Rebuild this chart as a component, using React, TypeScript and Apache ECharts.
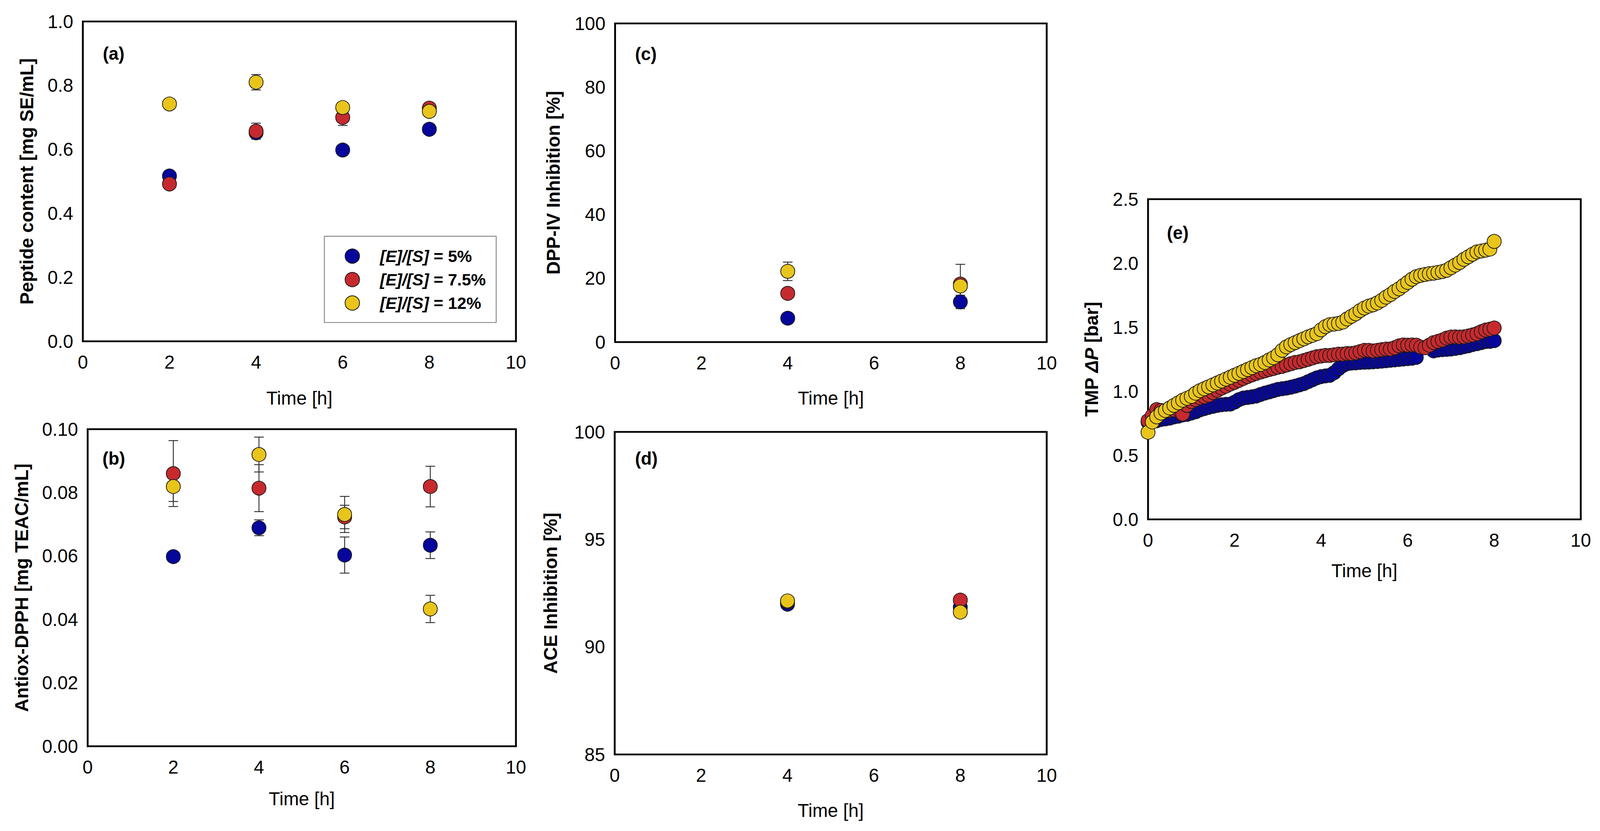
import React, { useEffect, useRef } from "react";
import * as echarts from "echarts";

// ---------- DATA ----------
const SERIES_NAMES = ["[E]/[S] = 5%", "[E]/[S] = 7.5%", "[E]/[S] = 12%"];

// (a) Peptide content [mg SE/mL]
const A_TIME = [2, 4, 6, 8];
const A_BLUE = [0.517, 0.652, 0.598, 0.663];
const A_BLUE_ERR = [0.01, 0.012, 0.008, 0.01];
const A_RED = [0.492, 0.657, 0.7, 0.729];
const A_RED_ERR = [0.012, 0.025, 0.025, 0.012];
const A_YELLOW = [0.742, 0.81, 0.731, 0.719];
const A_YELLOW_ERR = [0.01, 0.024, 0.015, 0.015];

// (b) Antiox-DPPH [mg TEAC/mL]
const B_TIME = [2, 4, 6, 8];
const B_BLUE = [0.0598, 0.0689, 0.0603, 0.0634];
const B_BLUE_ERR = [0.001, 0.0025, 0.0057, 0.0042];
const B_RED = [0.086, 0.0814, 0.0723, 0.0819];
const B_RED_ERR = [0.0104, 0.0074, 0.0037, 0.0064];
const B_YELLOW = [0.0819, 0.092, 0.0731, 0.0433];
const B_YELLOW_ERR = [0.0047, 0.0055, 0.0057, 0.0043];

// (c) DPP-IV Inhibition [%]
const C_TIME = [4, 8];
const C_BLUE = [7.5, 12.6];
const C_BLUE_ERR = [1.0, 2.1];
const C_RED = [15.3, 18.2];
const C_RED_ERR = [1.0, 6.2];
const C_YELLOW = [22.2, 17.6];
const C_YELLOW_ERR = [2.9, 1.5];

// (d) ACE Inhibition [%]
const D_TIME = [4, 8];
const D_BLUE = [91.99, 91.85];
const D_BLUE_ERR = [0.1, 0.1];
const D_RED = [92.1, 92.18];
const D_RED_ERR = [0.1, 0.1];
const D_YELLOW = [92.14, 91.62];
const D_YELLOW_ERR = [0.1, 0.1];

// (e) TMP ΔP [bar]
const E_TIME = [
  0.0, 0.1, 0.2, 0.3, 0.4, 0.5, 0.6, 0.7, 0.8, 0.9,
  1.0, 1.1, 1.2, 1.3, 1.4, 1.5, 1.6, 1.7, 1.8, 1.9,
  2.0, 2.1, 2.2, 2.3, 2.4, 2.5, 2.6, 2.7, 2.8, 2.9,
  3.0, 3.1, 3.2, 3.3, 3.4, 3.5, 3.6, 3.7, 3.8, 3.9,
  4.0, 4.1, 4.2, 4.3, 4.4, 4.5, 4.6, 4.7, 4.8, 4.9,
  5.0, 5.1, 5.2, 5.3, 5.4, 5.5, 5.6, 5.7, 5.8, 5.9,
  6.0, 6.1, 6.2, 6.3, 6.4, 6.5, 6.6, 6.7, 6.8, 6.9,
  7.0, 7.1, 7.2, 7.3, 7.4, 7.5, 7.6, 7.7, 7.8, 7.9,
  8.0,
];
const E_BLUE: (number | null)[] = [
  0.76, 0.765, 0.77, 0.78, 0.785, 0.79, 0.8, 0.805, 0.815, 0.82,
  0.83, 0.84, 0.855, 0.865, 0.875, 0.882, 0.89, 0.895, 0.898, 0.9,
  0.915, 0.935, 0.947, 0.952, 0.957, 0.963, 0.975, 0.986, 0.995, 1.005,
  1.015, 1.02, 1.025, 1.032, 1.04, 1.05, 1.06, 1.075, 1.09, 1.105,
  1.115, 1.12, 1.125, 1.145, 1.175, 1.2, 1.215, 1.22, 1.222, 1.225,
  1.227, 1.228, 1.23, 1.232, 1.235, 1.238, 1.242, 1.245, 1.248, 1.252,
  1.255, 1.258, 1.265, null, null, null, 1.315, 1.322, 1.325, 1.327,
  1.33, 1.335, 1.34, 1.348, 1.355, 1.365, 1.372, 1.38, 1.388, 1.39,
  1.395,
];
const E_RED: (number | null)[] = [
  0.77, 0.81, 0.857, 0.85, 0.845, 0.85, 0.855, 0.86, 0.823, 0.89,
  0.92, 0.935, 0.95, 0.958, 0.97, 0.99, 1.008, 1.025, 1.04, 1.056,
  1.07, 1.085, 1.1, 1.115, 1.128, 1.14, 1.15, 1.16, 1.17, 1.178,
  1.188, 1.195, 1.205, 1.215, 1.225, 1.23, 1.24, 1.25, 1.26, 1.27,
  1.275, 1.28, 1.28, 1.285, 1.29, 1.29, 1.295, 1.295, 1.3, 1.31,
  1.32, 1.32, 1.315, 1.32, 1.325, 1.33, 1.33, 1.34, 1.355, 1.362,
  1.36, 1.362, 1.36, 1.345, 1.34, 1.36, 1.38, 1.39, 1.4, 1.415,
  1.423, 1.425, 1.423, 1.425, 1.432, 1.44, 1.45, 1.465, 1.478, 1.485,
  1.494,
];
const E_YELLOW: (number | null)[] = [
  0.68, 0.76, 0.8, 0.83, 0.85, 0.87, 0.89, 0.91, 0.93, 0.945,
  0.96, 0.985, 1.005, 1.02, 1.035, 1.05, 1.065, 1.08, 1.095, 1.11,
  1.125, 1.14, 1.155, 1.17, 1.185, 1.2, 1.21, 1.225, 1.245, 1.262,
  1.285, 1.32, 1.347, 1.365, 1.38, 1.395, 1.41, 1.425, 1.437, 1.45,
  1.48, 1.505, 1.52, 1.525, 1.53, 1.54, 1.565, 1.585, 1.605, 1.63,
  1.65, 1.665, 1.675, 1.69, 1.71, 1.735, 1.755, 1.78, 1.8, 1.825,
  1.85, 1.875, 1.895, 1.905, 1.912, 1.918, 1.922, 1.928, 1.935, 1.945,
  1.965, 1.985, 2.005, 2.03, 2.05, 2.07, 2.088, 2.095, 2.102, 2.11,
  2.17,
];

// axis ticks
const X_TICKS = { min: 0, max: 10, interval: 2 };
const Y_TICKS = [
  { min: 0, max: 1, interval: 0.2, dec: 1 },
  { min: 0, max: 0.1, interval: 0.02, dec: 2 },
  { min: 0, max: 100, interval: 20, dec: 0 },
  { min: 85, max: 100, interval: 5, dec: 0 },
  { min: 0, max: 2.5, interval: 0.5, dec: 1 },
];
const Y_TITLES = [
  "Peptide content [mg SE/mL]",
  "Antiox-DPPH [mg TEAC/mL]",
  "DPP-IV Inhibition [%]",
  "ACE Inhibition [%]",
  null, // rich title for (e): TMP ΔP [bar]
];
const PANEL_LABELS = ["(a)", "(b)", "(c)", "(d)", "(e)"];
const X_TITLE = "Time [h]";

// ---------- STYLE / LAYOUT (reference pixel frame 4326 x 2128) ----------
const REF_W = 4326;
const REF_H = 2128;
const FONT = '"Liberation Sans", Arial, Helvetica, sans-serif';
const COLORS = ["#06069c", "#c62a2e", "#e9c51b"];
const EDGE = "#1a1a1a";
const ERR_COLOR = "#333333";

const BOXES = [
  { l: 224, t: 55, r: 1395, b: 874, yOff: 152, xOff: 145, lx: 278, ly: 137 },
  { l: 237, t: 1099, r: 1395, b: 1911, yOff: 178, xOff: 134, lx: 277, ly: 1174 },
  { l: 1663, t: 60, r: 2830, b: 876, yOff: 167, xOff: 143, lx: 1717, ly: 138 },
  { l: 1662, t: 1106, r: 2830, b: 1932, yOff: 173, xOff: 143, lx: 1717, ly: 1174 },
  { l: 3104, t: 510, r: 4274, b: 1330, yOff: 153, xOff: 131, lx: 3155, ly: 596 },
];

const PANEL_DATA = [
  { t: A_TIME, v: [A_BLUE, A_RED, A_YELLOW], e: [A_BLUE_ERR, A_RED_ERR, A_YELLOW_ERR] },
  { t: B_TIME, v: [B_BLUE, B_RED, B_YELLOW], e: [B_BLUE_ERR, B_RED_ERR, B_YELLOW_ERR] },
  { t: C_TIME, v: [C_BLUE, C_RED, C_YELLOW], e: [C_BLUE_ERR, C_RED_ERR, C_YELLOW_ERR] },
  { t: D_TIME, v: [D_BLUE, D_RED, D_YELLOW], e: [D_BLUE_ERR, D_RED_ERR, D_YELLOW_ERR] },
  { t: E_TIME, v: [E_BLUE, E_RED, E_YELLOW], e: null as null | number[][] },
];

function buildOption(sx: number, sy: number) {
  const f = Math.min(sx, sy);
  const X = (v: number) => v * sx;
  const Y = (v: number) => v * sy;
  const F = (v: number) => v * f;

  const errRender = (params: any, api: any) => {
    const x = api.value(0);
    const lo = api.value(1);
    const hi = api.value(2);
    const a = api.coord([x, hi]);
    const b = api.coord([x, lo]);
    const w = F(13);
    const style = { stroke: ERR_COLOR, lineWidth: F(2.5), fill: null };
    return {
      type: "group",
      children: [
        { type: "line", shape: { x1: a[0], y1: a[1], x2: b[0], y2: b[1] }, style },
        { type: "line", shape: { x1: a[0] - w, y1: a[1], x2: a[0] + w, y2: a[1] }, style },
        { type: "line", shape: { x1: b[0] - w, y1: b[1], x2: b[0] + w, y2: b[1] }, style },
      ],
    };
  };

  const grid = BOXES.map((bx) => ({
    left: X(bx.l),
    top: Y(bx.t),
    width: X(bx.r - bx.l),
    height: Y(bx.b - bx.t),
    show: true,
    borderColor: "#000",
    borderWidth: F(5),
    backgroundColor: "transparent",
    containLabel: false,
  }));

  const labelStyle = { fontSize: F(50), color: "#000", fontFamily: FONT };

  const xAxis = BOXES.map((_, i) => ({
    type: "value",
    gridIndex: i,
    min: X_TICKS.min,
    max: X_TICKS.max,
    interval: X_TICKS.interval,
    axisLine: { show: false },
    axisTick: { show: false },
    splitLine: { show: false },
    axisLabel: { ...labelStyle, margin: F(32) },
  }));

  const yAxis = Y_TICKS.map((tk, i) => ({
    type: "value",
    gridIndex: i,
    min: tk.min,
    max: tk.max,
    interval: tk.interval,
    axisLine: { show: false },
    axisTick: { show: false },
    splitLine: { show: false },
    axisLabel: {
      ...labelStyle,
      margin: F(26),
      formatter: (v: number) => v.toFixed(tk.dec),
    },
  }));

  const series: any[] = [];
  PANEL_DATA.forEach((pd, pi) => {
    pd.v.forEach((vals, si) => {
      if (pd.e) {
        const errs = pd.e[si];
        series.push({
          type: "custom",
          name: "err " + SERIES_NAMES[si],
          xAxisIndex: pi,
          yAxisIndex: pi,
          renderItem: errRender,
          encode: { x: 0, y: [1, 2] },
          data: pd.t.map((t, k) => [t, (vals[k] as number) - errs[k], (vals[k] as number) + errs[k]]),
          silent: true,
          z: 2,
        });
      }
      const pts: number[][] = [];
      pd.t.forEach((t, k) => {
        const v = vals[k];
        if (v !== null && v !== undefined) pts.push([t, v]);
      });
      series.push({
        type: "scatter",
        name: SERIES_NAMES[si],
        xAxisIndex: pi,
        yAxisIndex: pi,
        symbol: "circle",
        symbolSize: F(38),
        itemStyle: { color: COLORS[si], borderColor: EDGE, borderWidth: F(2), opacity: 1 },
        emphasis: { disabled: true },
        data: pts,
        z: 2,
      });
    });
  });

  const graphic: any[] = [];
  BOXES.forEach((bx, i) => {
    const cx = X((bx.l + bx.r) / 2);
    const cy = Y((bx.t + bx.b) / 2);
    graphic.push({
      type: "text",
      x: cx,
      y: Y(bx.b + bx.xOff),
      style: {
        text: X_TITLE,
        fontSize: F(50),
        fontFamily: FONT,
        fill: "#000",
        align: "center",
        verticalAlign: "middle",
        textAlign: "center",
        textVerticalAlign: "middle",
      },
    });
    const yt = Y_TITLES[i];
    graphic.push({
      type: "text",
      x: X(bx.l - bx.yOff),
      y: cy,
      rotation: Math.PI / 2,
      style: yt
        ? {
            text: yt,
            fontSize: F(50),
            fontWeight: "bold",
            fontFamily: FONT,
            fill: "#000",
            align: "center",
            verticalAlign: "middle",
            textAlign: "center",
            textVerticalAlign: "middle",
          }
        : {
            text: "{b|TMP }{bi|ΔP}{b| [bar]}",
            fontSize: F(50),
            fontWeight: "bold",
            fontFamily: FONT,
            fill: "#000",
            align: "center",
            verticalAlign: "middle",
            textAlign: "center",
            textVerticalAlign: "middle",
            rich: {
              b: { fontSize: F(50), fontWeight: "bold", fontFamily: FONT, fill: "#000" },
              bi: { fontSize: F(50), fontWeight: "bold", fontStyle: "italic", fontFamily: FONT, fill: "#000" },
            },
          },
    });
    graphic.push({
      type: "text",
      x: X(bx.lx),
      y: Y(bx.ly),
      style: {
        text: PANEL_LABELS[i],
        fontSize: F(48),
        fontWeight: "bold",
        fontFamily: FONT,
        fill: "#000",
        align: "left",
        verticalAlign: "middle",
        textAlign: "left",
        textVerticalAlign: "middle",
      },
    });
  });

  return {
    animation: false,
    backgroundColor: "#fff",
    grid,
    xAxis,
    yAxis,
    series,
    graphic,
    legend: {
      data: SERIES_NAMES,
      orient: "vertical",
      left: X(877),
      top: Y(605),
      padding: [F(31), F(28), F(30), F(55)],
      itemGap: F(18),
      itemWidth: F(39),
      itemHeight: F(39),
      icon: "circle",
      selectedMode: false,
      borderColor: "#8a8a8a",
      borderWidth: F(2.5),
      backgroundColor: "#fff",
      formatter: (name: string) => {
        const parts = name.split(" = ");
        return "{s|}{i|" + parts[0] + "}{n| = " + parts[1] + "}";
      },
      textStyle: {
        color: "#000",
        fontFamily: FONT,
        fontSize: F(45),
        fontWeight: "bold",
        rich: {
          s: { width: F(50) },
          i: { fontSize: F(45), fontWeight: "bold", fontStyle: "italic", fontFamily: FONT, color: "#000" },
          n: { fontSize: F(45), fontWeight: "bold", fontFamily: FONT, color: "#000" },
        },
      },
    },
  };
}

export default function App() {
  const ref = useRef<HTMLDivElement>(null);
  useEffect(() => {
    const el = ref.current;
    if (!el) return;
    const w = el.clientWidth || REF_W;
    const h = el.clientHeight || REF_H;
    const chart = echarts.init(el, undefined, { renderer: "svg", width: w, height: h });
    chart.setOption(buildOption(w / REF_W, h / REF_H) as any);
    return () => chart.dispose();
  }, []);
  return (
    <div
      ref={ref}
      style={{
        position: "fixed",
        left: 0,
        top: 0,
        width: "100vw",
        height: "100vh",
        background: "#fff",
        overflow: "hidden",
      }}
    />
  );
}
